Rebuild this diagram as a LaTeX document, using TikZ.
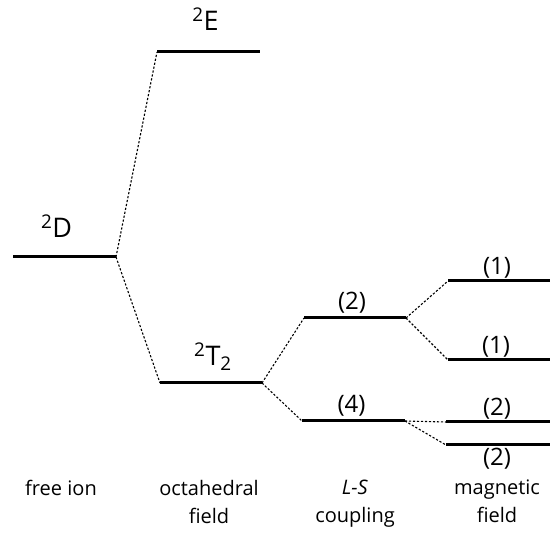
\documentclass[tikz,border=0pt]{standalone}
\usepackage{fontspec}
\setmainfont{Open Sans}
\usetikzlibrary{positioning}
\tikzset{
level/.style={line width=3pt},
link/.style={line width=1.1pt,dash pattern=on 2.2pt off 1.8pt},
termlabel/.style={font=\fontsize{27}{30}\selectfont,anchor=south,inner sep=0pt},
countlabel/.style={font=\fontsize{24}{28}\selectfont,anchor=south,inner sep=0pt},
stagelabel/.style={font=\fontsize{20}{28}\selectfont,align=center,anchor=north,inner sep=0pt}
}

\begin{document}
\begin{tikzpicture}[x=1pt,y=-1pt]
\useasboundingbox (0,0) rectangle (550,540);
% level end points
\coordinate (Dl) at (13,257);   \coordinate (Dr) at (116,257);
\coordinate (El) at (157,52);   \coordinate (Er) at (260,52);
\coordinate (Tl) at (160,383);  \coordinate (Tr) at (262,383);
\coordinate (Al) at (304,318);  \coordinate (Ar) at (406,318);
\coordinate (Bl) at (302,421);  \coordinate (Br) at (405,421);
\coordinate (Ml) at (448,281);  \coordinate (Mr) at (550,281);
\coordinate (Nl) at (448,360);  \coordinate (Nr) at (550,360);
\coordinate (Pl) at (446,422);  \coordinate (Pr) at (550,422);
\coordinate (Ql) at (446,445);  \coordinate (Qr) at (550,445);
% levels
\draw[level] (Dl) -- (Dr) node[termlabel,midway,above=18pt,xshift=-8pt] (Dlab) {\textsuperscript{2}D};
\draw[level] (El) -- (Er) node[termlabel,midway,above=20pt,xshift=-3pt] (Elab) {\textsuperscript{2}E};
\draw[level] (Tl) -- (Tr) node[termlabel,midway,above=11pt,xshift=2pt] (Tlab) {\textsuperscript{2}T\textsubscript{2}};
\draw[level] (Al) -- (Ar) node[countlabel,midway,above=3pt,xshift=-3pt] (Alab) {(2)};
\draw[level] (Bl) -- (Br) node[countlabel,midway,above=3pt,xshift=-2pt] (Blab) {(4)};
\draw[level] (Ml) -- (Mr) node[countlabel,midway,above=1pt,xshift=-2pt] (Mlab) {(1)};
\draw[level] (Nl) -- (Nr) node[countlabel,midway,above=1pt,xshift=-3pt] (Nlab) {(1)};
\draw[level] (Pl) -- (Pr) node[countlabel,midway,above=1pt,xshift=-1pt] (Plab) {(2)};
\draw[level] (Ql) -- (Qr) node[countlabel,midway,below=2pt,anchor=north,xshift=-1pt] (Qlab) {(2)};
% splittings
\draw[link] (Dr) -- (El);
\draw[link] (Dr) -- (Tl);
\draw[link] (Tr) -- (Al);
\draw[link] (Tr) -- (Bl);
\draw[link] (Ar) -- (Ml);
\draw[link] (Ar) -- (Nl);
\draw[link] (Br) -- (Pl);
\draw[link] (Br) -- (Ql);
% stages
\node[stagelabel] (ion) at (61,480) {free ion};
\node[stagelabel] (oct) at (209,480) {octahedral\\field};
\node[stagelabel] (ls) at (355,480) {\textit{L-S}\\coupling};
\node[stagelabel] (mag) at (497,480) {magnetic\\field};
\end{tikzpicture}
\end{document}
